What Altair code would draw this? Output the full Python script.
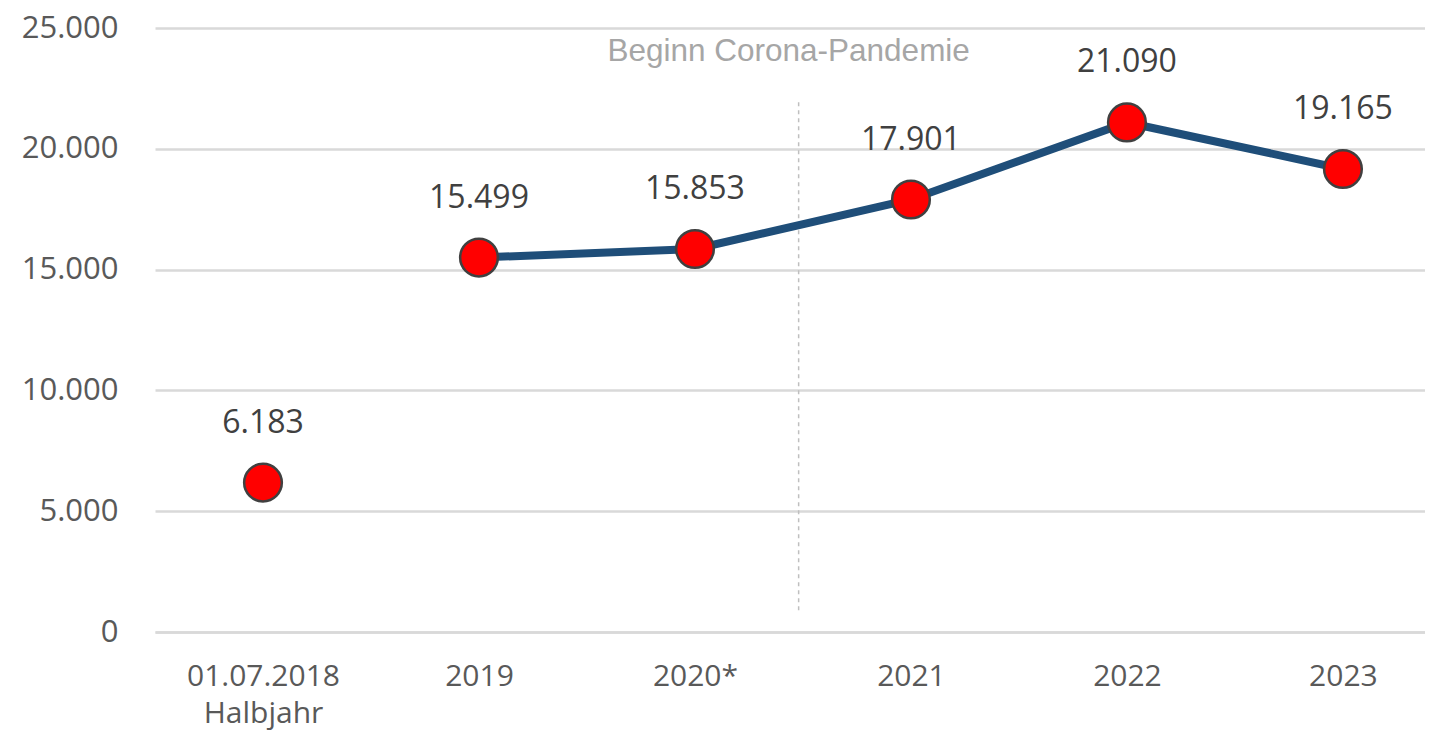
import altair as alt
import pandas as pd

categories = ["01.07.2018|Halbjahr", "2019", "2020*", "2021", "2022", "2023"]
values = [6183, 15499, 15853, 17901, 21090, 19165]
connected = [False, True, True, True, True, True]
y_ticks = [0, 5000, 10000, 15000, 20000, 25000]
annotation_text = "Beginn Corona-Pandemie"

df = pd.DataFrame({
    "idx": list(range(len(categories))),
    "cat": categories,
    "value": values,
    "connected": connected,
    "label": [f"{v:,}".replace(",", ".") for v in values],
})

cat_array = "[" + ",".join("'" + c + "'" for c in categories) + "]"

x_scale = alt.Scale(domain=[-0.5, 5.38], nice=False, zero=False)
y_scale = alt.Scale(domain=[0, 25000], nice=False)

x_enc = alt.X("idx:Q", scale=x_scale, axis=alt.Axis(
    values=list(range(len(categories))),
    labelExpr=f"split({cat_array}[datum.value], '|')",
    title=None, grid=False, domain=True, domainColor="#d9d9d9", domainWidth=2.5,
    ticks=False, labelFont="Open Sans", labelFontSize=30, labelColor="#595959",
    labelPadding=44, labelLineHeight=37, labelBaseline="middle"))
y_enc = alt.Y("value:Q", scale=y_scale, axis=alt.Axis(
    values=y_ticks,
    labelExpr="replace(format(datum.value, ','), ',', '.')",
    title=None, grid=True, gridColor="#d9d9d9", gridWidth=2.5, domain=False,
    ticks=False, labelFont="Open Sans", labelFontSize=31, labelColor="#595959",
    labelPadding=37))

base = alt.Chart(df)

line = base.transform_filter("datum.connected").mark_line(
    color="#1f4e79", strokeWidth=8).encode(x=x_enc, y=y_enc)

points = base.mark_point(
    filled=True, fill="#ff0000", stroke="#404040", strokeWidth=2.5,
    size=1420, opacity=1, shape="circle").encode(x="idx:Q", y="value:Q")

labels = base.mark_text(
    font="Open Sans", fontSize=32, color="#404040", dy=-60).encode(
    x="idx:Q", y="value:Q", text="label:N")

rule_df = pd.DataFrame({"x": [2.48], "y1": [900], "y2": [22000]})
rule = alt.Chart(rule_df).mark_rule(
    color="#bfbfbf", strokeDash=[4, 4], strokeWidth=1.5).encode(
    x="x:Q", y="y1:Q", y2="y2:Q")

ann_df = pd.DataFrame({"x": [2.48], "y": [24000], "text": [annotation_text]})
ann = alt.Chart(ann_df).mark_text(
    font="Liberation Sans", fontSize=31.5, color="#a6a6a6", dx=-10).encode(
    x="x:Q", y="y:Q", text="text:N")

chart = alt.layer(rule, line, points, labels, ann).properties(
    width=1270, height=604,
    padding={"left": 147, "top": 20, "right": 0, "bottom": 101},
    autosize=alt.AutoSizeParams(type="none"),
).configure_view(stroke=None)

chart.save("out.html", embed_options={"renderer": "svg", "actions": False})
